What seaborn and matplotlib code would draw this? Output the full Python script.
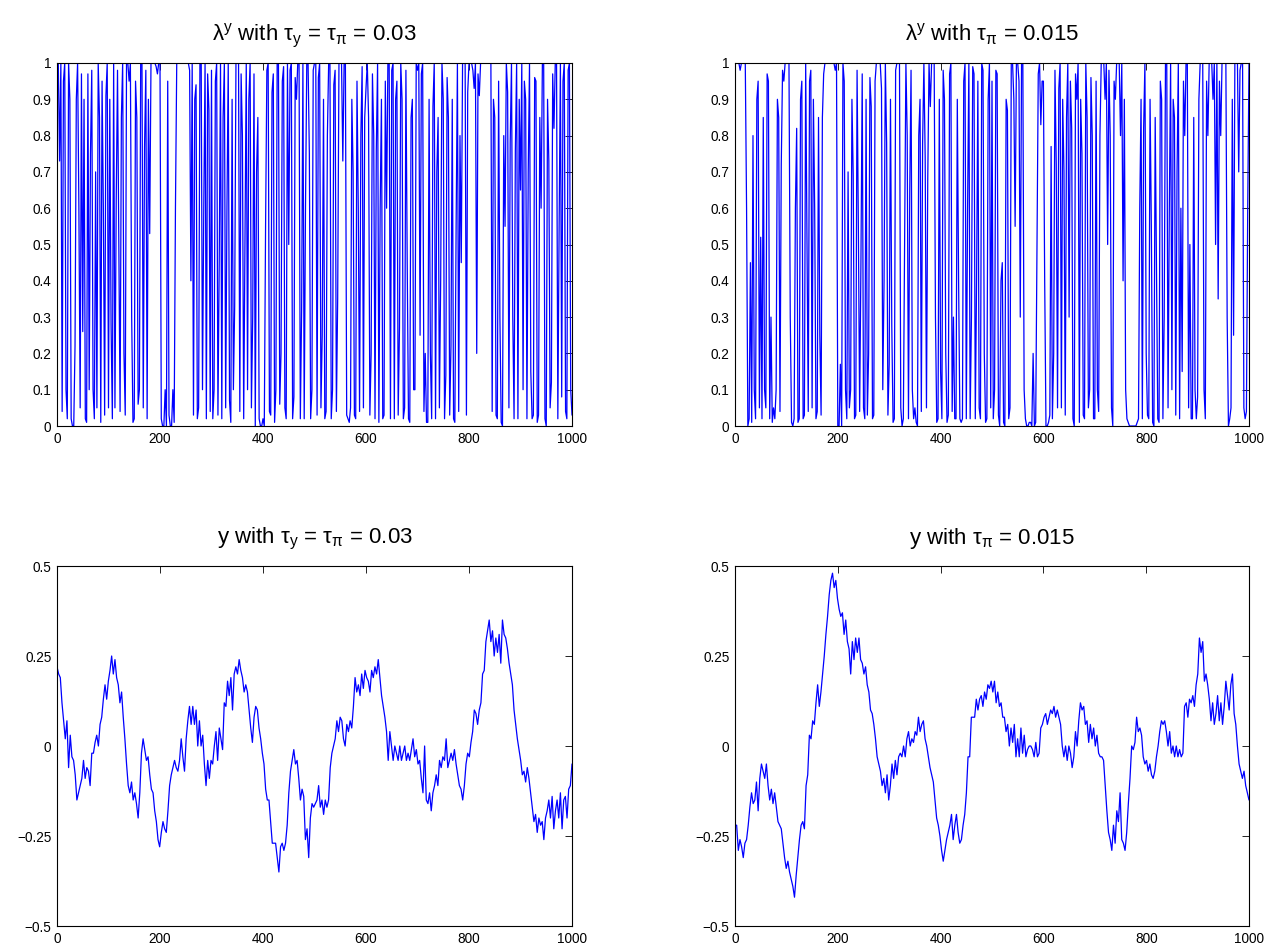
import numpy as np
import pandas as pd
import matplotlib
matplotlib.use("Agg")
import matplotlib.pyplot as plt
import seaborn as sns

# ---- data ---------------------------------------------------------------
# lambda^y, regime weight, tau_y = tau_pi = 0.03 (sampled every 2.5 periods)
lam_a = [
    1, 1, 0.73, 1, 0.04, 0.95, 1, 0.1, 0.02, 1, 0.9, 0.02, 0, 0, 0.22, 0.9, 1, 0.6, 0.05, 0.97,
    0.26, 0.9, 0.02, 0.01, 0.97, 0.1, 0.75, 0.98, 0.1, 0.02, 0.7, 0.05, 1, 0.85, 0.01, 0.95, 0.6, 0.03, 0.91, 1,
    0.05, 0.9, 0.28, 0.02, 1, 0.05, 0.62, 0.98, 0.52, 0.04, 0.85, 1, 0.2, 0.03, 1, 1, 0.95, 1, 0.3, 0.01,
    0.02, 0.95, 0.85, 0.06, 0.1, 1, 1, 0.05, 0.77, 0.98, 0.02, 0.9, 0.53, 1, 1, 1, 1, 0.99, 0.97, 1,
    1, 0.02, 0, 0, 0.1, 0, 0.95, 0.03, 0, 0, 0.1, 0.01, 0.6, 1, 1, 1, 1, 1, 1, 1,
    1, 1, 1, 0.98, 0.4, 1, 0.03, 0.9, 0.94, 0.02, 0.05, 1, 1, 0.1, 0.6, 1, 0.02, 0.97, 0.87, 0.04,
    0.98, 0.02, 0.1, 0.95, 1, 0.03, 0.45, 1, 0.02, 0.85, 1, 0.05, 0.6, 1, 0.07, 0.01, 0.9, 0.1, 0.33, 1,
    1, 1, 0.04, 0.97, 0.8, 0.02, 0.52, 1, 0.1, 0.9, 1, 0.05, 0.3, 0.97, 0.0, 0.7, 0.85, 0.02, 0.0, 0.0,
    0.02, 0.0, 0.55, 0.98, 1, 0.04, 0.03, 0.92, 0.97, 0.01, 0.1, 1, 1, 0.06, 0.2, 0.95, 0.99, 0.05, 0.02, 1,
    0.5, 0.98, 1, 0.02, 0.08, 0.96, 0.9, 1, 1, 0.02, 0.32, 1, 0.02, 0.6, 1, 1, 0.75, 0.02, 0.1, 0.98,
    1, 1, 0.03, 0.96, 1, 0.05, 0.25, 0.9, 0.02, 0.04, 0.8, 1, 1, 0.02, 0.1, 0.94, 0.98, 0.04, 0.35, 1,
    1, 1, 0.73, 1, 1, 0.03, 0.02, 0.01, 0.05, 0.9, 0.7, 0.03, 0.02, 0.95, 0.6, 0.04, 0.8, 0.99, 0.05, 0.85,
    0.93, 1, 0.85, 0.03, 0.2, 0.97, 0.8, 0.02, 0.76, 1, 0.01, 0.6, 0.9, 0.02, 0.03, 0.95, 0.6, 1, 1, 0.02,
    0.98, 1, 0.02, 0.9, 0.95, 0.03, 0.27, 1, 0.9, 0.02, 0.05, 0.98, 0.45, 0.02, 0.01, 0.85, 0.9, 0.1, 0.1, 1,
    0.98, 1, 0.25, 0.97, 1, 0.04, 0.2, 0.01, 0.01, 0.9, 0.2, 0.02, 0.88, 1, 0.02, 0.7, 0.85, 0.05, 0.4, 1,
    0.9, 0.02, 0.14, 0.96, 0.85, 0.03, 0.22, 0.9, 0.02, 0.01, 0.55, 1, 0.04, 0.8, 0.45, 1, 1, 1, 0.03, 0.92,
    1, 1, 1, 0.98, 0.93, 1, 0.2, 0.97, 0.91, 1, 1, 1, 1, 1, 1, 1, 1, 1, 0.04, 0.9,
    0.85, 0.03, 0.02, 0.95, 0.3, 0.01, 0.0, 0.8, 0.55, 1, 0.92, 0.05, 0.78, 1, 0.3, 0.02, 0.76, 1, 0.02, 0.9,
    0.65, 1, 0.1, 0.95, 0.9, 0.02, 0.7, 1, 0.15, 0.02, 0.03, 0.96, 0.95, 0.01, 0.03, 0.85, 0.6, 1, 1, 0.02,
    0.0, 0.9, 0.73, 0.05, 0.12, 0.97, 0.82, 1, 1, 0.02, 0.55, 1, 0.08, 0.95, 1, 0.04, 0.02, 0.98, 1, 0.1, 0.03,
]

# lambda^y, tau_pi = 0.015
lam_b = [
    1, 1, 1, 1, 0.98, 1, 1, 1, 1, 0.6, 0.0, 0.02, 0.45, 0.01, 0.8, 0.1, 0.02, 0.9, 0.95, 0.05,
    0.52, 0.02, 0.85, 0.1, 0.05, 0.97, 0.95, 0.02, 0.3, 0.01, 0.05, 0.02, 0.1, 0.9, 0.85, 0.04, 0.72, 0.98, 0.95, 1,
    1, 1, 1, 0.3, 0.01, 0.0, 0.02, 0.6, 0.82, 0.01, 0.02, 0.9, 0.95, 0.02, 0.03, 1, 0.5, 0.04, 0.95, 0.98,
    0.05, 0.9, 0.6, 0.02, 0.04, 0.85, 0.25, 0.03, 0.85, 0.97, 1, 1, 1, 1, 1, 1, 1, 1, 0.98, 1,
    0.0, 0.0, 0.17, 0.0, 1, 0.95, 0.1, 0.02, 0.7, 0.05, 0.1, 0.9, 0.69, 0.02, 0.03, 0.98, 0.55, 0.04, 0.45, 0.97,
    0.05, 0.02, 0.9, 0.03, 0.2, 0.96, 0.88, 0.02, 0.03, 0.95, 1, 1, 1, 1, 0.93, 0.1, 0.4, 1, 0.78, 0.03,
    0.17, 0.9, 0.28, 0.01, 0.02, 0.98, 1, 1, 1, 0.05, 0.0, 0.02, 0.5, 1, 0.8, 0.02, 0.65, 0.98, 0.1, 0.02,
    0.05, 0.01, 0.0, 0.8, 0.9, 0.04, 0.78, 1, 0.74, 0.05, 0.68, 1, 0.88, 1, 1, 1, 0.3, 0.01, 0.02, 0.9,
    0.15, 0.02, 0.98, 0.9, 0.2, 0.01, 0.03, 0.97, 1, 0.04, 0.3, 0.02, 0.02, 0.9, 0.4, 0.02, 0.01, 0.02, 0.95, 1,
    0.02, 0.6, 1, 0.02, 0.3, 0.99, 0.97, 0.02, 0.4, 0.95, 0.05, 0.02, 1, 0.98, 0.2, 0.01, 0.02, 0.9, 1, 0.05,
    0.95, 0.02, 0.1, 0.98, 0.97, 0.03, 0.0, 0.4, 0.45, 0.01, 0.0, 0.9, 0.87, 0.02, 0.05, 1, 1, 0.9, 0.55, 1,
    1, 0.95, 0.3, 1, 1, 0.1, 0.02, 0.0, 0.0, 0.01, 0.01, 0.0, 0.2, 0.0, 0.01, 0.5, 0.97, 1, 0.83, 0.95,
    0.95, 0.4, 0.0, 0.0, 0.01, 0.03, 0.77, 0.02, 0.2, 0.98, 0.72, 0.05, 0.93, 1, 0.05, 0.9, 0.7, 0.03, 0.85, 1,
    0.3, 0.95, 0.82, 0.02, 0.0, 0.97, 0.9, 1, 0.01, 0.9, 0.75, 0.03, 0.02, 1, 0.85, 0.05, 0.1, 0.96, 0.8, 0.02,
    0.02, 0.95, 0.1, 0.04, 0.8, 1, 1, 1, 0.9, 1, 0.5, 0.98, 0.8, 0.05, 0.0, 0.95, 0.9, 1, 1, 1,
    0.8, 1, 0.4, 0.9, 0.1, 0.02, 0.01, 0.0, 0.0, 0.0, 0.0, 0.0, 0.0, 0.01, 0.02, 0.6, 0.9, 0.02, 0.82, 1,
    0.2, 0.03, 0.02, 0.9, 0.55, 0.01, 0.0, 0.85, 0.45, 0.02, 0.01, 0.95, 0.9, 0.02, 0.3, 1, 1, 0.05, 0.6, 1,
    0.1, 0.9, 0.85, 0.03, 0.7, 1, 0.02, 0.6, 0.15, 0.95, 0.8, 1, 1, 0.05, 0.5, 0.02, 0.02, 0.85, 0.1, 0.02,
    0.08, 0.9, 1, 1, 1, 0.1, 0.02, 0.95, 0.8, 1, 1, 1, 0.9, 1, 0.5, 1, 0.35, 0.95, 0.8, 1,
    1, 1, 1, 0.3, 0.0, 0.02, 0.05, 0.9, 0.25, 1, 1, 1, 0.7, 0.98, 1, 1, 0.05, 0.02, 0.04, 0.6, 1,
]

# output gap y, tau_y = tau_pi = 0.03
y_a = [
    0.22, 0.20, 0.19, 0.12, 0.07, 0.02, 0.07, -0.06, 0.03, -0.03,
    -0.04, -0.08, -0.15, -0.13, -0.11, -0.09, -0.04, -0.09, -0.06, -0.07,
    -0.11, -0.02, -0.02, 0.01, 0.03, 0.00, 0.06, 0.08, 0.13, 0.17,
    0.13, 0.18, 0.21, 0.25, 0.20, 0.24, 0.19, 0.17, 0.12, 0.15,
    0.08, 0.02, -0.05, -0.11, -0.13, -0.10, -0.15, -0.13, -0.16, -0.20,
    -0.13, -0.02, 0.02, -0.01, -0.04, -0.03, -0.08, -0.12, -0.13, -0.18,
    -0.21, -0.26, -0.28, -0.24, -0.21, -0.23, -0.24, -0.18, -0.11, -0.08,
    -0.06, -0.04, -0.06, -0.07, -0.04, 0.02, -0.03, -0.07, 0.02, 0.07,
    0.11, 0.06, 0.11, 0.06, 0.10, 0.00, 0.07, 0.00, 0.03, -0.05,
    -0.11, -0.04, -0.09, -0.04, -0.05, 0.00, 0.04, -0.04, 0.05, 0.02,
    -0.01, 0.12, 0.11, 0.18, 0.14, 0.19, 0.10, 0.20, 0.22, 0.20,
    0.24, 0.21, 0.19, 0.15, 0.17, 0.15, 0.10, 0.05, 0.01, 0.08,
    0.11, 0.10, 0.05, 0.02, -0.02, -0.05, -0.12, -0.15, -0.15, -0.21,
    -0.27, -0.27, -0.27, -0.31, -0.35, -0.28, -0.27, -0.29, -0.27, -0.22,
    -0.13, -0.07, -0.04, -0.01, -0.05, -0.04, -0.09, -0.15, -0.12, -0.14,
    -0.26, -0.23, -0.31, -0.20, -0.16, -0.17, -0.16,
    -0.15, -0.11, -0.17, -0.15, -0.19, -0.15, -0.17, -0.15, -0.06, -0.02,
    0.00, 0.02, 0.07, 0.04, 0.08, 0.07, 0.02, 0.00, 0.06, 0.04,
    0.07, 0.05, 0.11, 0.19, 0.15, 0.17, 0.14, 0.20, 0.16, 0.21,
    0.19, 0.18, 0.15, 0.21, 0.19, 0.22, 0.20, 0.24, 0.19, 0.14,
    0.11, 0.08, 0.04, -0.04, 0.04, 0.00, -0.04, 0.00, -0.02, -0.04,
    0.00, -0.04, -0.02, 0.00, -0.04, -0.02, -0.04, -0.01, 0.02, -0.03,
    -0.01, -0.05, -0.04, -0.09, -0.13, 0.00, -0.15, -0.16, -0.13, -0.18,
    -0.13, -0.11, -0.08, -0.11, -0.04, -0.06, -0.03, -0.04, 0.02, -0.06,
    -0.04, -0.02, -0.04, -0.01, -0.05, -0.08, -0.11, -0.12, -0.15, -0.11,
    -0.05, -0.02, -0.03, 0.01, 0.04, 0.10, 0.09, 0.06, 0.10, 0.12,
    0.20, 0.21, 0.29, 0.32, 0.35, 0.29, 0.32, 0.25, 0.30, 0.26,
    0.31, 0.23, 0.35, 0.31, 0.30, 0.27, 0.23, 0.20, 0.17, 0.10,
    0.06, 0.02, -0.01, -0.04, -0.08, -0.07, -0.10, -0.06, -0.09, -0.13,
    -0.17, -0.21, -0.19, -0.24, -0.20, -0.22, -0.21, -0.26, -0.20, -0.18,
    -0.15, -0.20, -0.14, -0.23, -0.18, -0.15, -0.20, -0.13, -0.23, -0.15,
    -0.14, -0.20, -0.12, -0.11, -0.05,
]

# output gap y, tau_pi = 0.015
y_b = [
    -0.22, -0.22, -0.29, -0.26, -0.28, -0.31, -0.27, -0.26, -0.22, -0.17,
    -0.13, -0.16, -0.15, -0.10, -0.18, -0.09, -0.05, -0.07, -0.09, -0.05,
    -0.11, -0.15, -0.12, -0.16, -0.13, -0.17, -0.21, -0.22, -0.23, -0.27,
    -0.31, -0.34, -0.32, -0.35, -0.37, -0.39, -0.42, -0.36, -0.31, -0.26,
    -0.22, -0.21, -0.23, -0.11, -0.08, 0.03, 0.02, 0.07, 0.06, 0.12,
    0.17, 0.11, 0.15, 0.20, 0.25, 0.31, 0.36, 0.42, 0.46, 0.48,
    0.44, 0.46, 0.41, 0.38, 0.36, 0.37, 0.31, 0.35, 0.29, 0.27,
    0.20, 0.29, 0.24, 0.30, 0.26, 0.30, 0.24, 0.23, 0.20, 0.22,
    0.17, 0.15, 0.10, 0.09, 0.06, 0.02, -0.03, -0.05, -0.07, -0.11,
    -0.09, -0.13, -0.08, -0.15, -0.11, -0.05, -0.09, -0.04, -0.08, -0.03,
    -0.02, -0.03, 0.00, -0.03, 0.02, 0.04, 0.00, 0.02, 0.01, 0.04,
    0.03, 0.08, 0.04, 0.06, 0.07, 0.02, 0.00, -0.03, -0.06, -0.08,
    -0.10, -0.15, -0.20, -0.22, -0.25, -0.29, -0.32, -0.29, -0.26, -0.24,
    -0.22, -0.19, -0.26, -0.22, -0.19, -0.24, -0.27, -0.26, -0.22, -0.19,
    -0.13, -0.03, -0.03, 0.08, 0.08, 0.08, 0.13, 0.10, 0.13, 0.14,
    0.11, 0.15, 0.13, 0.17, 0.16, 0.18, 0.15,
    0.18, 0.12, 0.15, 0.11, 0.12, 0.08, 0.08, 0.04, 0.06, 0.00,
    0.05, 0.01, 0.06, -0.03, 0.02, -0.03, 0.05, -0.02, 0.03, -0.03,
    -0.01, 0.00, 0.00, -0.01, -0.03, 0.01, -0.03, -0.02, 0.05, 0.06,
    0.08, 0.09, 0.06, 0.08, 0.10, 0.09, 0.11, 0.08, 0.10, 0.08,
    0.06, 0.00, -0.03, 0.00, -0.04, 0.00, -0.02, -0.06, -0.03, 0.04,
    0.00, 0.07, 0.12, 0.10, 0.11, 0.06, 0.07, 0.01, 0.06, 0.02,
    0.05, 0.00, 0.03, -0.02, -0.03, -0.03, -0.04, -0.11, -0.18, -0.24,
    -0.26, -0.29, -0.22, -0.27, -0.18, -0.21, -0.13, -0.26, -0.27, -0.29,
    -0.24, -0.16, -0.09, 0.00, -0.01, 0.01, 0.08, 0.04, 0.05, 0.03,
    -0.03, -0.05, -0.04, -0.07, -0.05, -0.08, -0.09, -0.07, -0.03, 0.00,
    0.04, 0.07, 0.06, 0.07, 0.04, 0.00, 0.04, -0.02, 0.00, -0.03,
    0.00, -0.03, -0.01, -0.03, -0.02, 0.11, 0.12, 0.08, 0.13, 0.12,
    0.14, 0.11, 0.17, 0.20, 0.30, 0.26, 0.29, 0.18, 0.20, 0.17,
    0.13, 0.07, 0.12, 0.06, 0.09, 0.14, 0.07, 0.12, 0.06, 0.11,
    0.18, 0.14, 0.10, 0.17, 0.20, 0.09, 0.06, 0.00, -0.05, -0.07,
    -0.09, -0.07, -0.11, -0.13, -0.15,
]

titles = [
    r"$\lambda^{y}$ with $\tau_{y}$ = $\tau_{\pi}$ = 0.03",
    r"$\lambda^{y}$ with $\tau_{\pi}$ = 0.015",
    r"y with $\tau_{y}$ = $\tau_{\pi}$ = 0.03",
    r"y with $\tau_{\pi}$ = 0.015",
]
x_ticks = [0, 200, 400, 600, 800, 1000]
lam_ticks = [0, 0.1, 0.2, 0.3, 0.4, 0.5, 0.6, 0.7, 0.8, 0.9, 1]
lam_ticklabels = ["0", "0.1", "0.2", "0.3", "0.4", "0.5", "0.6", "0.7", "0.8", "0.9", "1"]
y_ticks = [-0.5, -0.25, 0, 0.25, 0.5]
y_ticklabels = ["\u22120.5", "\u22120.25", "0", "0.25", "0.5"]

# ---- style --------------------------------------------------------------
sns.set_style("white")
plt.rcParams["font.family"] = ["Liberation Sans", "DejaVu Sans"]
plt.rcParams["mathtext.fontset"] = "custom"
plt.rcParams["mathtext.rm"] = "Liberation Sans"
plt.rcParams["mathtext.it"] = "Liberation Sans"
plt.rcParams["mathtext.default"] = "regular"

fig = plt.figure(figsize=(12.7, 9.51), dpi=100)
W, H = 1270, 951
boxes = [
    (57, 63, 572, 426),
    (735, 63, 1249, 426),
    (57, 566, 572, 926),
    (735, 566, 1249, 926),
]
series = [lam_a, lam_b, y_a, y_b]

for i, (box, vals, title) in enumerate(zip(boxes, series, titles)):
    l, t, r, b = box
    ax = fig.add_axes([l / W, 1 - b / H, (r - l) / W, (b - t) / H])
    df = pd.DataFrame({"period": np.linspace(0, 1000, len(vals)), "value": vals})
    sns.lineplot(data=df, x="period", y="value", ax=ax, color="#0000ff",
                 linewidth=0.9, estimator=None, sort=False)
    ax.set_xlim(0, 1000)
    ax.set_xticks(x_ticks)
    ax.set_xticklabels([str(v) for v in x_ticks])
    if i < 2:
        ax.set_ylim(0, 1)
        ax.set_yticks(lam_ticks)
        ax.set_yticklabels(lam_ticklabels)
    else:
        ax.set_ylim(-0.5, 0.5)
        ax.set_yticks(y_ticks)
        ax.set_yticklabels(y_ticklabels)
    ax.set_xlabel("")
    ax.set_ylabel("")
    ax.tick_params(direction="in", top=True, right=True, length=5, width=0.6,
                   labelsize=9.8, colors="black", pad=4)
    for sp in ax.spines.values():
        sp.set_visible(True)
        sp.set_color("black")
        sp.set_linewidth(0.8)
    ax.set_title(title, fontsize=16, pad=16, color="black")

fig.savefig("out.png", dpi=100, facecolor="white")
